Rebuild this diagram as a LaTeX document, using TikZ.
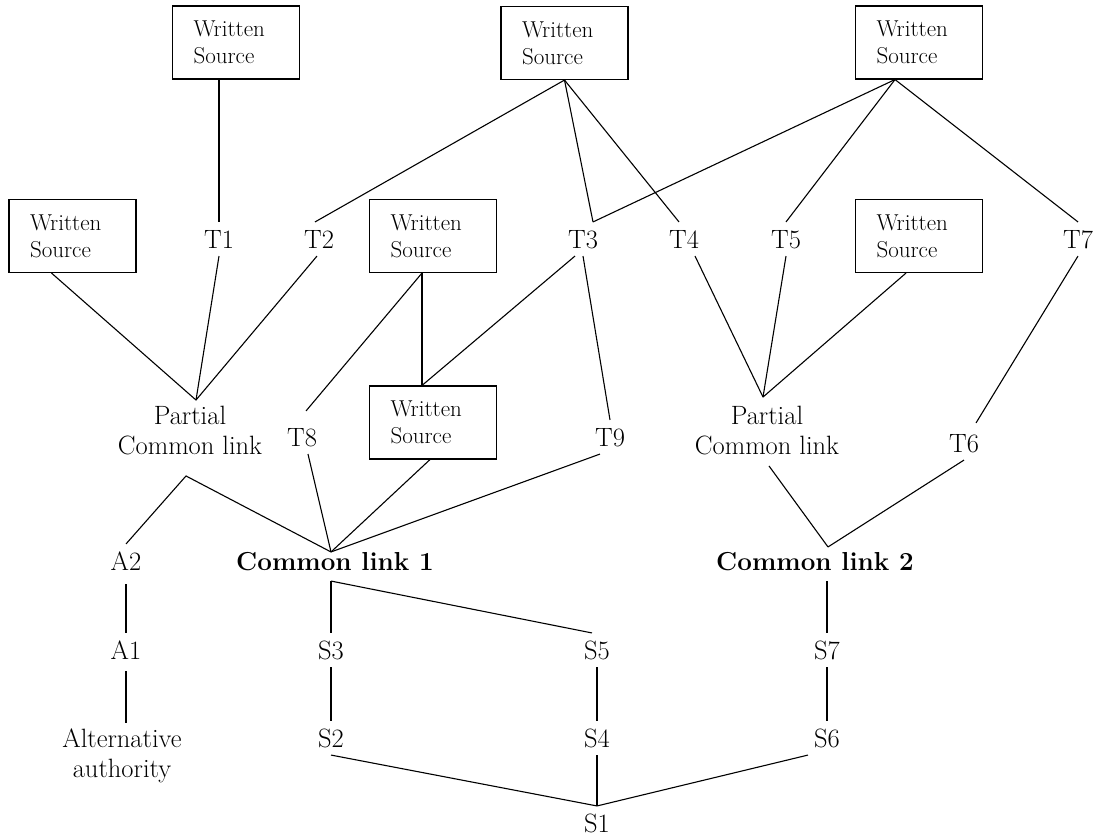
\documentclass[tikz,border=0pt]{standalone}
\usetikzlibrary{calc}
\begin{document}
\begin{tikzpicture}[x=1pt,y=-1pt,line width=1.1pt,
  wsbox/.style={draw,minimum width=127pt,minimum height=73pt,inner xsep=21pt,inner ysep=0pt,text width=85pt,align=left,font=\fontsize{23}{27}\selectfont},
  lab/.style={anchor=base,inner xsep=0pt,inner ysep=7.5pt,text height=18pt,text depth=0pt,font=\fontsize{26.5}{31}\selectfont},
  blab/.style={lab,font=\fontsize{26}{31}\selectfont\bfseries},
  mlab/.style={align=center,inner sep=0pt,font=\fontsize{26.5}{30}\selectfont}]
\useasboundingbox (0,0) rectangle (1100,838);
% boxes
\node[wsbox] (WS1) at (236,42.5) {Written\\Source};
\node[wsbox] (WS2) at (564.5,43) {Written\\Source};
\node[wsbox] (WS3) at (919,42.5) {Written\\Source};
\node[wsbox] (WS4) at (72.5,236) {Written\\Source};
\node[wsbox] (WS5) at (433,236) {Written\\Source};
\node[wsbox] (WS6) at (433,422.5) {Written\\Source};
\node[wsbox] (WS7) at (919,236) {Written\\Source};
% labels
\node[lab] (T1) at (219,248) {T1};
\node[lab] (T2) at (319,248) {T2};
\node[lab] (T3) at (583,248) {T3};
\node[lab] (T4) at (684,248) {T4};
\node[lab] (T5) at (786,248) {T5};
\node[lab] (T7) at (1078,248) {T7};
\node[lab] (T8) at (302,446) {T8};
\node[lab] (T9) at (610,446) {T9};
\node[lab] (T6) at (964,452) {T6};
\node[mlab] (PL) at (190,431) {Partial\\Common link};
\node[mlab] (PR) at (767,431) {Partial\\Common link};
\node[lab] (A2) at (126,570) {A2};
\node[blab] (CL1) at (335,570) {Common link 1};
\node[blab] (CL2) at (815,570) {Common link 2};
\node[lab] (A1) at (126,659) {A1};
\node[lab] (S3) at (331,659) {S3};
\node[lab] (S5) at (597,659) {S5};
\node[lab] (S7) at (827,659) {S7};
\node[mlab] (ALT) at (122,756) {Alternative\\authority};
\node[lab] (S2) at (331,747) {S2};
\node[lab] (S4) at (597,747) {S4};
\node[lab] (S6) at (827,747) {S6};
\node[lab] (S1) at (597,832) {S1};
% junction points
\coordinate (WS3b) at ($(WS3.south)+(-24,0)$);
\coordinate (T3a) at ($(T3.north)+(10,0)$);
\coordinate (PLa) at ($(PL.north)+(6,-6)$);
\coordinate (PLb) at ($(PL.south)+(-4,20)$);
\coordinate (PRa) at ($(PR.north)+(-4,-9)$);
\coordinate (PRb) at ($(PR.south)+(2,10)$);
\coordinate (CL1a) at ($(CL1.north)+(-4,8)$);
\coordinate (CL1b) at ($(CL1.south)+(-4,3)$);
\coordinate (CL2a) at ($(CL2.north)+(13,3)$);
\coordinate (CL2b) at ($(CL2.south)+(12,3)$);
\coordinate (WS6t) at ($(WS6.north)+(-11,0)$);
% connectors
\draw ($(WS1.south)+(-17,0)$) -- (T1.north);
\draw (WS2.south) -- ($(T2.north)+(-4,0)$);
\draw (WS2.south) -- (T3a);
\draw (WS2.south) -- ($(T4.north)+(-5,0)$);
\draw (WS3b) -- (T3a);
\draw (WS3b) -- (T5.north);
\draw (WS3b) -- (T7.north);
\draw ($(WS4.south)+(-21,0)$) -- (PLa);
\draw (T1.south) -- (PLa);
\draw ($(T2.south)+(-2,0)$) -- (PLa);
\draw ($(WS5.south)+(-11,0)$) -- ($(T8.north)+(4,-9)$);
\draw ($(WS5.south)+(-11,0)$) -- (WS6t);
\draw ($(T3.south)+(-8,0)$) -- (WS6t);
\draw (T3.south) -- (T9.north);
\draw ($(T4.south)+(11,0)$) -- (PRa);
\draw (T5.south) -- (PRa);
\draw ($(WS7.south)+(-13,0)$) -- (PRa);
\draw (T7.south) -- ($(T6.north)+(12,-3)$);
\draw (PLb) -- (A2.north);
\draw (PLb) -- (CL1a);
\draw ($(T8.south)+(6,0)$) -- (CL1a);
\draw ($(WS6.south)+(-3,0)$) -- (CL1a);
\draw ($(T9.south)+(-10,0)$) -- (CL1a);
\draw (PRb) -- (CL2a);
\draw (T6.south) -- (CL2a);
\draw ($(A2.south)+(0,6)$) -- (A1.north);
\draw ($(A1.south)+(0,4)$) -- ($(ALT.north)+(4,-5)$);
\draw (CL1b) -- (S3.north);
\draw (CL1b) -- ($(S5.north)+(-5,0)$);
\draw (S3.south) -- (S2.north);
\draw (S5.south) -- (S4.north);
\draw (CL2b) -- (S7.north);
\draw (S7.south) -- (S6.north);
\draw (S2.south) -- (S1.north);
\draw (S4.south) -- (S1.north);
\draw ($(S6.south)+(-19,0)$) -- (S1.north);
\end{tikzpicture}
\end{document}
